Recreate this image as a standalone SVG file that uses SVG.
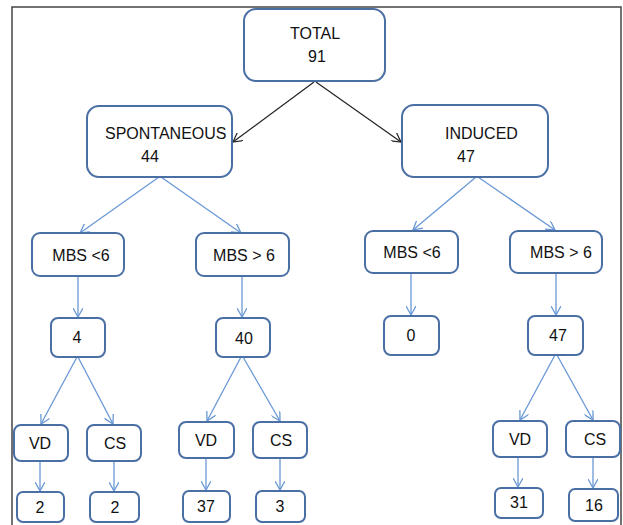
<svg xmlns="http://www.w3.org/2000/svg" width="623" height="525" viewBox="0 0 623 525">
<style>
.box{fill:#fff;stroke:#4a6fa5;stroke-width:2}
.t{font-family:"Liberation Sans",Arial,sans-serif;font-size:16px;fill:#111}
.c{text-anchor:middle}
.blk{stroke:#222;stroke-width:1.2;fill:none}
.blu{stroke:#6a98d6;stroke-width:1.3;fill:none}
</style>
<defs>
<marker id="ab" viewBox="0 0 10 10" refX="9" refY="5" markerWidth="10" markerHeight="10" markerUnits="userSpaceOnUse" orient="auto">
<path d="M0,0 L9,5 L0,10" fill="none" stroke="#222" stroke-width="1.2"/>
</marker>
<marker id="au" viewBox="0 0 10 10" refX="9" refY="5" markerWidth="10" markerHeight="10" markerUnits="userSpaceOnUse" orient="auto">
<path d="M0,0 L9,5 L0,10" fill="none" stroke="#6a98d6" stroke-width="1.3"/>
</marker>
</defs>
<rect width="623" height="525" fill="#fff"/>
<path d="M12,525 V7 H621 V525" fill="none" stroke="#444" stroke-width="1.5"/>

<g id="connectors">
<line class="blk" x1="314" y1="82" x2="233" y2="142" marker-end="url(#ab)"/>
<line class="blk" x1="316" y1="82" x2="401" y2="142" marker-end="url(#ab)"/>
<line class="blu" x1="159" y1="177" x2="80" y2="233" marker-end="url(#au)"/>
<line class="blu" x1="161" y1="177" x2="241" y2="233" marker-end="url(#au)"/>
<line class="blu" x1="476" y1="177" x2="413" y2="230" marker-end="url(#au)"/>
<line class="blu" x1="478" y1="177" x2="555" y2="230" marker-end="url(#au)"/>
<line class="blu" x1="78" y1="276" x2="78" y2="317" marker-end="url(#au)"/>
<line class="blu" x1="242" y1="276" x2="242" y2="317" marker-end="url(#au)"/>
<line class="blu" x1="411" y1="273" x2="411" y2="315" marker-end="url(#au)"/>
<line class="blu" x1="556" y1="273" x2="556" y2="315" marker-end="url(#au)"/>
<line class="blu" x1="77" y1="357" x2="41" y2="424" marker-end="url(#au)"/>
<line class="blu" x1="78" y1="357" x2="113" y2="424" marker-end="url(#au)"/>
<line class="blu" x1="241" y1="357" x2="207" y2="421" marker-end="url(#au)"/>
<line class="blu" x1="243" y1="357" x2="280" y2="421" marker-end="url(#au)"/>
<line class="blu" x1="555" y1="355" x2="520" y2="420" marker-end="url(#au)"/>
<line class="blu" x1="557" y1="355" x2="593" y2="420" marker-end="url(#au)"/>
<line class="blu" x1="40" y1="461" x2="40" y2="491" marker-end="url(#au)"/>
<line class="blu" x1="114" y1="461" x2="114" y2="491" marker-end="url(#au)"/>
<line class="blu" x1="206" y1="458" x2="206" y2="490" marker-end="url(#au)"/>
<line class="blu" x1="280" y1="458" x2="280" y2="490" marker-end="url(#au)"/>
<line class="blu" x1="518" y1="457" x2="518" y2="487" marker-end="url(#au)"/>
<line class="blu" x1="593" y1="457" x2="593" y2="488" marker-end="url(#au)"/>
</g>

<g id="total"><rect class="box" x="244" y="9" width="141" height="72" rx="12"/>
<text class="t c" x="315" y="39">TOTAL</text><text class="t c" x="317" y="62">91</text></g>

<g id="spontaneous"><rect class="box" x="87" y="106" width="145" height="71" rx="12"/>
<text class="t" x="105" y="139">SPONTANEOUS</text><text class="t" x="141" y="162">44</text></g>

<g id="induced"><rect class="box" x="402" y="105" width="146" height="72" rx="12"/>
<text class="t" x="445" y="139">INDUCED</text><text class="t" x="457" y="162">47</text></g>

<g id="s-mbs-lt6"><rect class="box" x="32" y="233" width="92" height="43" rx="8"/>
<text class="t c" x="81" y="261">MBS &lt;6</text></g>
<g id="s-mbs-gt6"><rect class="box" x="196" y="233" width="93" height="43" rx="8"/>
<text class="t c" x="244" y="261">MBS &gt; 6</text></g>
<g id="i-mbs-lt6"><rect class="box" x="365" y="231" width="93" height="42" rx="8"/>
<text class="t c" x="412" y="258">MBS &lt;6</text></g>
<g id="i-mbs-gt6"><rect class="box" x="510" y="231" width="92" height="42" rx="8"/>
<text class="t c" x="561" y="258">MBS &gt; 6</text></g>

<g id="n4"><rect class="box" x="51" y="318" width="54" height="39" rx="7"/>
<text class="t c" x="77" y="343">4</text></g>
<g id="n40"><rect class="box" x="216" y="318" width="54" height="39" rx="7"/>
<text class="t c" x="244" y="344">40</text></g>
<g id="n0"><rect class="box" x="384" y="316" width="55" height="39" rx="7"/>
<text class="t c" x="411" y="341">0</text></g>
<g id="n47"><rect class="box" x="528" y="316" width="55" height="39" rx="7"/>
<text class="t c" x="558" y="341">47</text></g>

<g id="vd1"><rect class="box" x="14" y="425" width="54" height="36" rx="7"/>
<text class="t c" x="40" y="449">VD</text></g>
<g id="cs1"><rect class="box" x="87" y="425" width="54" height="36" rx="7"/>
<text class="t c" x="115" y="449">CS</text></g>
<g id="vd2"><rect class="box" x="179" y="422" width="55" height="36" rx="7"/>
<text class="t c" x="206" y="446">VD</text></g>
<g id="cs2"><rect class="box" x="253" y="422" width="54" height="36" rx="7"/>
<text class="t c" x="281" y="446">CS</text></g>
<g id="vd3"><rect class="box" x="493" y="421" width="54" height="36" rx="7"/>
<text class="t c" x="520" y="445">VD</text></g>
<g id="cs3"><rect class="box" x="566" y="421" width="54" height="36" rx="7"/>
<text class="t c" x="595" y="445">CS</text></g>

<g id="r2a"><rect class="box" x="17" y="492" width="47" height="30" rx="6"/>
<text class="t c" x="40" y="513">2</text></g>
<g id="r2b"><rect class="box" x="90" y="492" width="49" height="30" rx="6"/>
<text class="t c" x="115" y="513">2</text></g>
<g id="r37"><rect class="box" x="183" y="491" width="47" height="31" rx="6"/>
<text class="t c" x="206" y="512">37</text></g>
<g id="r3"><rect class="box" x="256" y="491" width="49" height="31" rx="6"/>
<text class="t c" x="280" y="512">3</text></g>
<g id="r31"><rect class="box" x="495" y="488" width="48" height="30" rx="6"/>
<text class="t c" x="519" y="508">31</text></g>
<g id="r16"><rect class="box" x="569" y="489" width="49" height="32" rx="6"/>
<text class="t c" x="594" y="511">16</text></g>
</svg>
